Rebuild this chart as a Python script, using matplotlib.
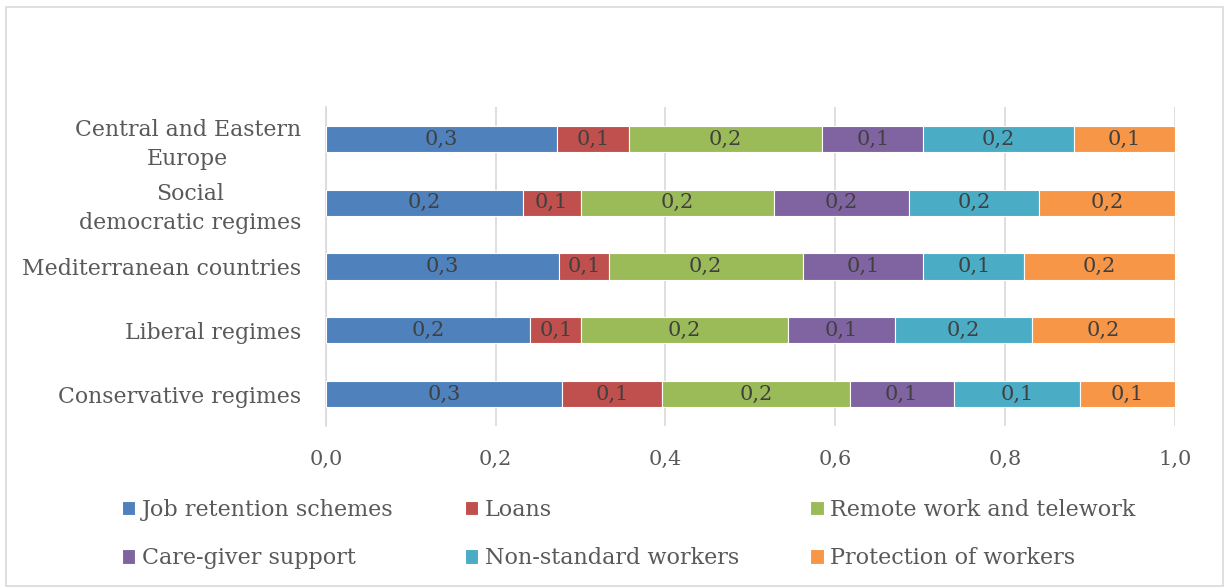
import numpy as np
import matplotlib.pyplot as plt
from matplotlib.patches import Rectangle

regions = ['Conservative regimes', 'Liberal regimes', 'Mediterranean countries',
           'Social\ndemocratic regimes', 'Central and Eastern\nEurope']

measures = ['Job retention schemes', 'Loans', 'Remote work and telework',
            'Care-giver support', 'Non-standard workers', 'Protection of workers']

# shares per regime, bottom row first
job_retention = [0.278, 0.241, 0.275, 0.232, 0.272]
loans = [0.118, 0.060, 0.058, 0.068, 0.085]
remote_work = [0.221, 0.243, 0.229, 0.228, 0.228]
care_giver = [0.123, 0.127, 0.142, 0.159, 0.119]
non_standard = [0.149, 0.161, 0.119, 0.153, 0.177]
protection = [0.111, 0.168, 0.177, 0.160, 0.119]

colors = ['#4F81BD', '#C0504D', '#9BBB59', '#8064A2', '#4BACC6', '#F79646']

plt.rcParams['font.family'] = 'DejaVu Serif'

fig = plt.figure(figsize=(12.3, 5.88), dpi=100)
ax = fig.add_axes([0.265, 0.2755, 0.69, 0.5425])

series = [job_retention, loans, remote_work, care_giver, non_standard, protection]
y = np.arange(len(regions))
left = np.zeros(len(regions))
for name, vals, c in zip(measures, series, colors):
    vals = np.array(vals)
    bars = ax.barh(y, vals, left=left, height=0.41, color=c, edgecolor='white',
                   linewidth=0.8, label=name, zorder=3)
    for b, v in zip(bars, vals):
        ax.text(b.get_x() + b.get_width() / 2, b.get_y() + b.get_height() / 2,
                f'{v:.1f}'.replace('.', ','), ha='center', va='center',
                fontsize=15, color='#404040', zorder=4)
    left += vals

ax.set_xlim(0, 1.0)
ax.set_ylim(-0.5, len(regions) - 0.5)
ax.set_xticks(np.arange(0, 1.01, 0.2))
ax.set_xticklabels([f'{t:.1f}'.replace('.', ',') for t in np.arange(0, 1.01, 0.2)])
ax.set_yticks(y)
ax.set_yticklabels(regions, multialignment='center', linespacing=1.4)
ax.tick_params(axis='x', length=0, pad=17, labelsize=15, labelcolor='#595959')
ax.tick_params(axis='y', length=0, pad=18, labelsize=15.8, labelcolor='#595959')
ax.grid(axis='x', color='#d9d9d9', linewidth=1.2, zorder=0)
for s in ['top', 'right', 'bottom']:
    ax.spines[s].set_visible(False)
ax.spines['left'].set_color('#d9d9d9')
ax.spines['left'].set_linewidth(1.2)

# legend filled row by row: three entries per row
handles, labels = ax.get_legend_handles_labels()
order = [0, 3, 1, 4, 2, 5]
fig.legend([handles[i] for i in order], [labels[i] for i in order],
           loc='upper left', bbox_to_anchor=(0.083, 0.186),
           ncol=3, frameon=False, fontsize=16, labelcolor='#595959',
           handlelength=0.6, handleheight=0.6, handletextpad=0.3,
           columnspacing=3.2, labelspacing=1.2)

# light frame around the chart area
fig.patches.append(Rectangle((0.005, 0.003), 0.989, 0.985, transform=fig.transFigure,
                             fill=False, edgecolor='#d9d9d9', linewidth=1.2))

fig.savefig('out.png', dpi=100)
